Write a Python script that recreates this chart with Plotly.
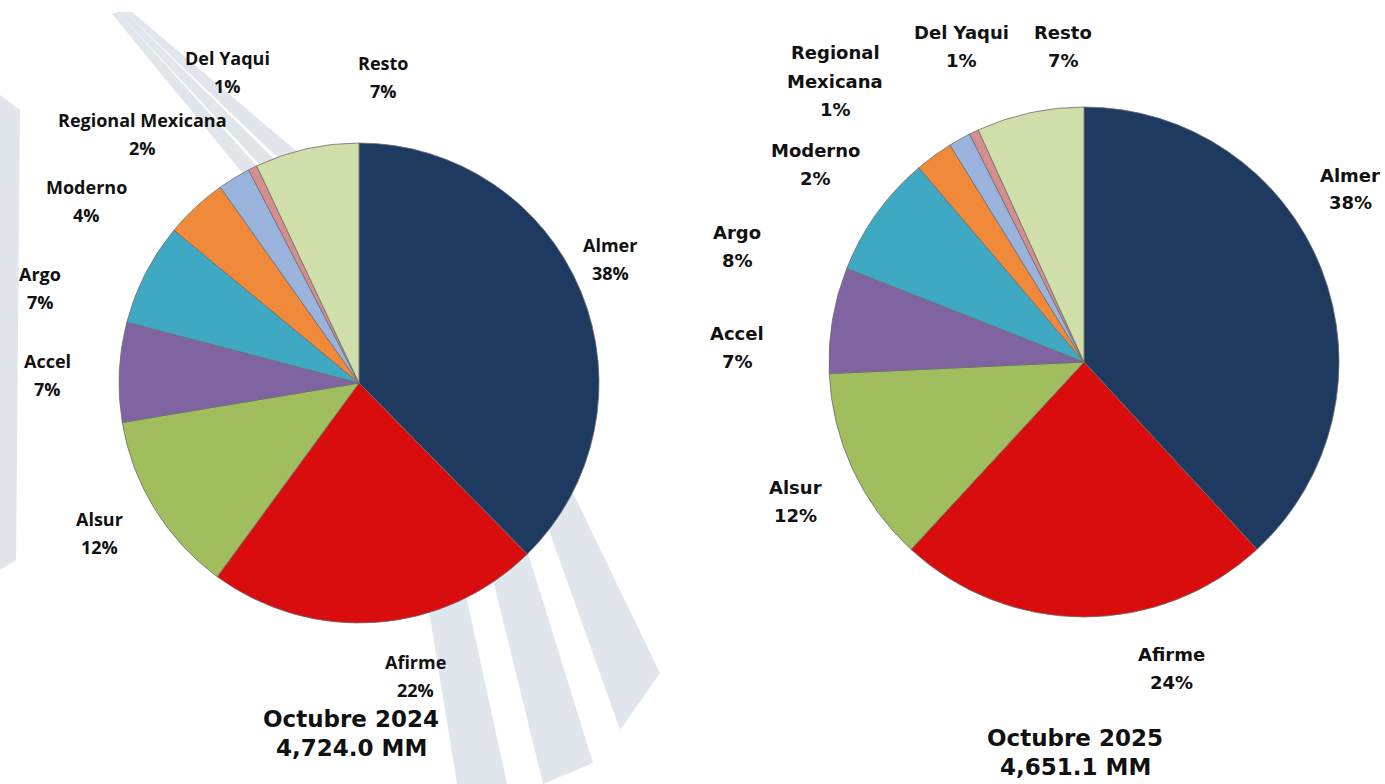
import plotly.graph_objects as go

W, H = 1385, 784

# ---- data ----
categories = ["Almer", "Afirme", "Alsur", "Accel", "Argo", "Moderno",
              "Regional Mexicana", "Del Yaqui", "Resto"]
share_2024 = [37.6, 22.4, 12.3, 6.7, 6.9, 4.2, 2.2, 0.6, 7.0]
share_2025 = [38.1, 23.7, 12.4, 6.7, 7.8, 2.4, 1.4, 0.6, 6.8]
title_2024 = ["Octubre 2024", "4,724.0 MM"]
title_2025 = ["Octubre 2025", "4,651.1 MM"]

colors = ["#1F3A60", "#D90D0D", "#A0BE5E", "#8064A2", "#3FA9C4",
          "#F08A3A", "#9AB3DC", "#D58E8E", "#D0DEA9"]


def px(x):
    return x / W


def py(y):
    return 1 - y / H


def pct_text(vals):
    tot = sum(vals)
    return [f"{round(v / tot * 100):.0f}%" for v in vals]


fig = go.Figure()

# decorative background swooshes
bands = [
    [(112, 14), (240, 170), (380, 400), (430, 617), (457, 784),
     (507, 784), (467, 600), (420, 400), (256, 165), (118, 12)],
    [(118, 12), (258, 163), (440, 380), (493, 580), (543, 784),
     (593, 763), (527, 550), (470, 360), (275, 160), (125, 12)],
    [(125, 12), (278, 158), (500, 360), (550, 533), (620, 730),
     (660, 673), (573, 493), (530, 340), (295, 150), (132, 12)],
    [(0, 95), (20, 110), (16, 560), (0, 570)],
]
shapes = []
for b in bands:
    path = "M " + " L ".join(f"{px(x):.4f},{py(y):.4f}" for x, y in b) + " Z"
    shapes.append(dict(type="path", path=path, xref="paper", yref="paper",
                       fillcolor="#E1E5EC", line=dict(width=0), layer="below"))


def pie_domain(cx, cy, r):
    return dict(x=[px(cx - r), px(cx + r)], y=[py(cy + r), py(cy - r)])


for vals, dom in [(share_2024, pie_domain(359, 383, 240)),
                  (share_2025, pie_domain(1084, 362, 255))]:
    fig.add_trace(go.Pie(
        labels=categories, values=vals, sort=False, direction="clockwise",
        rotation=0, textinfo="none", hoverinfo="label+percent",
        marker=dict(colors=colors, line=dict(color="#6d6d6d", width=0.8)),
        domain=dom, showlegend=False,
    ))

annotations = []


def add_text(lines, x, y, font, size, step):
    for i, t in enumerate(lines):
        annotations.append(dict(
            text=f"<b>{t}</b>", x=px(x), y=py(y + i * step), xref="paper",
            yref="paper", showarrow=False, xanchor="center", yanchor="middle",
            font=dict(family=font, size=size, color="#111111")))


left_font = "Open Sans"
right_font = "DejaVu Sans"

p24 = pct_text(share_2024)
left_pos = [(610, 245), (415, 662), (99, 519), (47, 361), (40, 274),
            (86, 187), (142, 120), (227, 58), (383, 63)]
for name, p, (x, y) in zip(categories, p24, left_pos):
    add_text([name, p], x, y, left_font, 18, 28)

p25 = pct_text(share_2025)
right_pos = [(1350, 175), (1171, 654), (796, 487), (737, 333), (737, 232),
             (815, 150), (835, 53), (961, 32), (1063, 32)]
for name, p, (x, y) in zip(categories, p25, right_pos):
    lines = name.split(" ") + [p] if name == "Regional Mexicana" else [name, p]
    add_text(lines, x, y, right_font, 18, 28)

add_text(title_2024, 351, 719, right_font, 23, 29)
add_text(title_2025, 1075, 738, right_font, 23, 29)

fig.update_layout(
    width=W, height=H, margin=dict(l=0, r=0, t=0, b=0),
    paper_bgcolor="white", plot_bgcolor="white",
    shapes=shapes, annotations=annotations, showlegend=False,
)

fig.write_html("out.html", config={"displayModeBar": False},
               post_script="document.body.style.margin='0px';document.body.style.overflow='hidden';")
